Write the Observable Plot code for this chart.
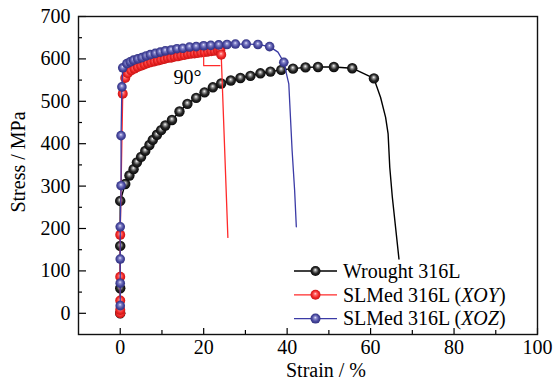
<!DOCTYPE html>
<html><head><meta charset="utf-8">
<script src="https://cdn.jsdelivr.net/npm/d3@7"></script>
<script src="https://cdn.jsdelivr.net/npm/@observablehq/plot@0.6"></script>
<style>body{margin:0;background:#fff;}</style>
</head><body><div id="chart"></div>
<script>
// ---- data (strain %, stress MPa) ----
const seriesNames = ["Wrought 316L", "SLMed 316L (XOY)", "SLMed 316L (XOZ)"];

const wStrain = [0,0,0,0,1.2,2.2,3.2,4.0,5.0,6.0,7.0,7.8,8.8,9.8,10.8,12.4,14.2,16.1,18.2,20.2,22.2,24.2,26.5,28.8,31.2,33.6,36.0,38.6,41.4,44.4,47.4,51.2,55.6,60.8];
const wStress = [0,59,159,265,305,325,340,356,369,383,397,409,421,432,443,456,476,494,508,521,533,542,549,555,560,566,570,574,577,580,581,581,578,554];
const wTailStrain = [62.4,63.6,64.2,64.6,65.2,66.8];
const wTailStress = [509,462,423,344,275,128];

const rStrain = [0,0,0,0,0,0.6,1.2,1.8,2.6,3.4,4.2,5.0,5.8,6.6,7.4,8.2,9.0,9.8,10.6,11.4,12.2,13.0,13.8,14.6,15.4,16.2,17.0,17.8,18.6,19.4,20.2,21.0,21.8,22.6,23.4,24.0,24.2];
const rStress = [0,8,30,86,185,518,555,566,573,577,581,584,587,590,592,594,596,598,600,602,603,605,606,608,609,611,612,613,614,615,616,617,618,619,620,621,610];
const rTailStrain = [25.8];
const rTailStress = [179];

const bStrain = [0,0,0,0,0.2,0.2,0.4,0.6,1.6,2.4,3.2,4.2,5.2,6.2,7.2,8.4,9.6,10.8,12.2,13.6,15.0,16.6,18.2,20.0,21.7,23.6,25.6,27.6,30.2,33.0,35.8,39.2];
const bStress = [18,71,128,204,301,419,534,579,589,593,597,600,603,607,610,613,616,619,621,624,625,628,629,631,632,633,634,635,635,634,629,592];
const bTailStrain = [37.8,40.4,41.2,41.8,42.2];
const bTailStress = [616,541,383,289,204];

// right-angle annotation and label
const angleStrain = [20,20,23.9];
const angleStress = [615,584,584];
const angleText = [{strain:16.1, stress:555, text:"90°"}];

const xMajor = [0,20,40,60,80,100];
const xMinor = [10,30,50,70,90];
const yMajor = [0,100,200,300,400,500,600,700];
const yMinor = [50,150,250,350,450,550,650];

// ---- layout ----
const W = 557, H = 382, mL = 78, mR = 20, mT = 16, mB = 48;
const fw = W - mL - mR, fh = H - mT - mB;
const cBlack = "#000000", cRed = "#ff2a2a", cBlue = "#3b3ba6";
const FONT = "'Liberation Serif', 'Times New Roman', serif";

const pts = (xs, ys) => xs.map((x, i) => ({strain: x, stress: ys[i]}));
const byStrain = (a) => a.slice().sort((p, q) => p.strain - q.strain);
const black = pts(wStrain, wStress);
const red = pts(rStrain, rStress);
const blue = pts(bStrain, bStress);
const blackLine = byStrain(black.concat(pts(wTailStrain, wTailStress)));
const redLine = byStrain(red.concat(pts(rTailStrain, rTailStress)));
const blueLine = byStrain(blue.concat(pts(bTailStrain, bTailStress)));
const angle = pts(angleStrain, angleStress);

const plot = Plot.plot({
  width: W, height: H,
  marginLeft: mL, marginRight: mR, marginTop: mT, marginBottom: mB,
  style: {fontFamily: FONT, fontSize: "20px", background: "#fff", color: "#000"},
  x: {domain: [-10, 100]},
  y: {domain: [-50, 700]},
  marks: [
    Plot.axisX({ticks: xMajor, tickSize: 0, tickPadding: 5, label: null, tickFormat: d => String(d), fontFamily: FONT, fontSize: 20}),
    Plot.axisY({ticks: yMajor, tickSize: 0, tickPadding: 8, label: null, tickFormat: d => String(d), fontFamily: FONT, fontSize: 20}),
    Plot.tickX(xMajor, {x: d => d, insetTop: fh - 6, stroke: "#000", strokeWidth: 1.2}),
    Plot.tickX(xMinor, {x: d => d, insetTop: fh - 4, stroke: "#000", strokeWidth: 1.2}),
    Plot.tickY(yMajor, {y: d => d, insetRight: fw - 8, stroke: "#000", strokeWidth: 1.2}),
    Plot.tickY(yMinor, {y: d => d, insetRight: fw - 4, stroke: "#000", strokeWidth: 1.2}),
    Plot.frame({stroke: "#111", strokeWidth: 1.4}),
    Plot.line(blackLine, {x: "strain", y: "stress", stroke: cBlack, strokeWidth: 1.4}),
    Plot.dot(black, {x: "strain", y: "stress", r: 5.2, fill: "url(#gBlack)"}),
    Plot.line(redLine, {x: "strain", y: "stress", stroke: cRed, strokeWidth: 1.3}),
    Plot.dot(red, {x: "strain", y: "stress", r: 5, fill: "url(#gRed)"}),
    Plot.line(blueLine, {x: "strain", y: "stress", stroke: cBlue, strokeWidth: 1.3}),
    Plot.dot(blue, {x: "strain", y: "stress", r: 4.8, fill: "url(#gBlue)"}),
    Plot.line(angle, {x: "strain", y: "stress", stroke: cRed, strokeWidth: 1.2}),
    Plot.text(angleText, {x: "strain", y: "stress", text: "text", fontSize: 20, fontFamily: FONT, fill: "#000"})
  ]
});

const svg = d3.select(plot);
const defs = svg.insert("defs", ":first-child");
function grad(id, stops) {
  const g = defs.append("radialGradient").attr("id", id)
    .attr("cx", "50%").attr("cy", "50%").attr("r", "55%").attr("fx", "48%").attr("fy", "38%");
  stops.forEach(([o, c]) => g.append("stop").attr("offset", o).attr("stop-color", c));
}
grad("gBlack", [["0%", "#ffffff"], ["22%", "#9a9a9a"], ["55%", "#2a2a2a"], ["100%", "#000000"]]);
grad("gRed", [["0%", "#ffd8d8"], ["25%", "#ff6a6a"], ["60%", "#f02828"], ["100%", "#c01010"]]);
grad("gBlue", [["0%", "#e8e8ff"], ["25%", "#8a8acc"], ["60%", "#4a4aa0"], ["100%", "#2a2a78"]]);

// axis titles
svg.append("text").attr("transform", "translate(25,162) rotate(-90)")
  .attr("text-anchor", "middle").attr("font-size", 20).attr("fill", "#000").text("Stress / MPa");
svg.append("text").attr("x", 326).attr("y", 377)
  .attr("text-anchor", "middle").attr("font-size", 20).attr("fill", "#000").text("Strain / %");

// legend
const legendRows = [
  {name: seriesNames[0], pre: "Wrought 316L", it: "", post: "", color: cBlack, grad: "gBlack"},
  {name: seriesNames[1], pre: "SLMed 316L (", it: "XOY", post: ")", color: cRed, grad: "gRed"},
  {name: seriesNames[2], pre: "SLMed 316L (", it: "XOZ", post: ")", color: cBlue, grad: "gBlue"}
];
const lg = svg.append("g");
legendRows.forEach((d, i) => {
  const y = 271 + i * 23.8;
  lg.append("line").attr("x1", 294).attr("x2", 337).attr("y1", y).attr("y2", y)
    .attr("stroke", d.color).attr("stroke-width", 1.3);
  lg.append("circle").attr("cx", 315.5).attr("cy", y).attr("r", 5).attr("fill", `url(#${d.grad})`);
  const t = lg.append("text").attr("x", 343).attr("y", y).attr("dy", "0.34em")
    .attr("text-anchor", "start").attr("font-size", 20).attr("fill", "#000");
  t.append("tspan").text(d.pre);
  if (d.it) { t.append("tspan").attr("font-style", "italic").text(d.it); t.append("tspan").text(d.post); }
});
svg.selectAll("text").attr("font-family", FONT).style("font-family", FONT);

document.getElementById("chart").appendChild(plot);
</script>
</body></html>
